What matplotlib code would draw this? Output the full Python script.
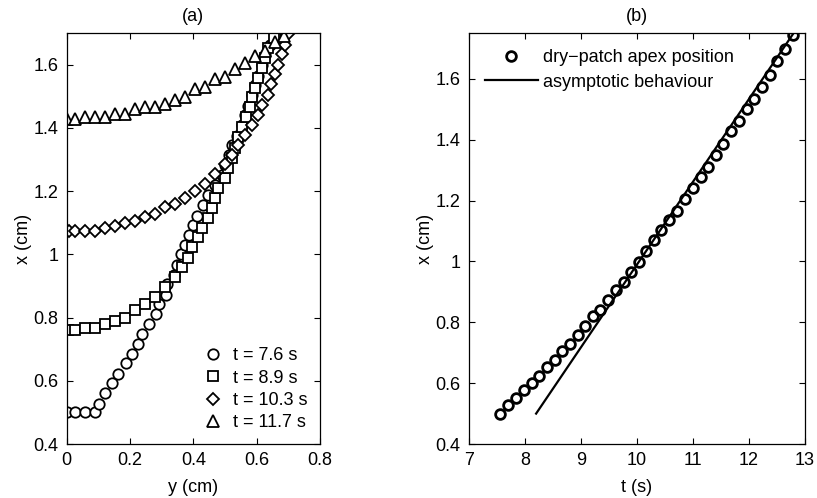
import matplotlib
matplotlib.use("Agg")
import matplotlib.pyplot as plt
from matplotlib.ticker import FuncFormatter

plt.rcParams["font.family"] = ["Liberation Sans", "DejaVu Sans"]
plt.rcParams["font.size"] = 13

# (a) dry-patch contours: y (cm) and x (cm) for each time
y_76 = [0.0, 0.026, 0.058, 0.089, 0.102, 0.121, 0.142, 0.163, 0.186, 0.205, 0.226,
        0.237, 0.26, 0.281, 0.291, 0.313, 0.318, 0.339, 0.349, 0.362, 0.373, 0.386,
        0.4, 0.413, 0.43, 0.447, 0.47, 0.49, 0.5, 0.512, 0.521, 0.538, 0.553, 0.563,
        0.573, 0.584, 0.595, 0.605, 0.616, 0.626, 0.642, 0.658]
x_76 = [0.5, 0.5, 0.5, 0.5, 0.528, 0.56, 0.592, 0.623, 0.655, 0.686, 0.718,
        0.747, 0.779, 0.81, 0.842, 0.873, 0.905, 0.936, 0.968, 1.0, 1.03, 1.06,
        1.092, 1.123, 1.155, 1.187, 1.218, 1.25, 1.282, 1.313, 1.345, 1.376, 1.408, 1.44,
        1.471, 1.503, 1.535, 1.566, 1.598, 1.63, 1.661, 1.693]

y_89 = [0.005, 0.026, 0.058, 0.089, 0.121, 0.153, 0.184, 0.216, 0.247, 0.279, 0.31,
        0.342, 0.363, 0.384, 0.395, 0.416, 0.426, 0.447, 0.458, 0.468, 0.479, 0.5,
        0.51, 0.521, 0.531, 0.542, 0.553, 0.568, 0.579, 0.584, 0.595, 0.605, 0.616,
        0.626, 0.637, 0.655]
x_89 = [0.76, 0.76, 0.768, 0.768, 0.78, 0.79, 0.80, 0.823, 0.844, 0.865, 0.896,
        0.928, 0.96, 0.99, 1.023, 1.054, 1.084, 1.115, 1.147, 1.178, 1.21, 1.242,
        1.273, 1.305, 1.336, 1.37, 1.402, 1.434, 1.466, 1.497, 1.528, 1.559, 1.59,
        1.622, 1.653, 1.685]

y_103 = [0.008, 0.026, 0.058, 0.089, 0.121, 0.153, 0.184, 0.216, 0.247, 0.279, 0.31,
         0.342, 0.373, 0.405, 0.437, 0.468, 0.5, 0.521, 0.542, 0.563, 0.584, 0.605,
         0.616, 0.637, 0.647, 0.658, 0.668, 0.679, 0.689, 0.7]
x_103 = [1.075, 1.075, 1.075, 1.075, 1.083, 1.09, 1.098, 1.107, 1.117, 1.128, 1.149,
         1.16, 1.18, 1.2, 1.223, 1.254, 1.286, 1.316, 1.347, 1.378, 1.41, 1.441,
         1.473, 1.504, 1.538, 1.57, 1.6, 1.633, 1.664, 1.696]

y_117 = [0.0, 0.026, 0.058, 0.089, 0.121, 0.153, 0.184, 0.216, 0.247, 0.279, 0.31,
         0.342, 0.373, 0.405, 0.437, 0.468, 0.5, 0.531, 0.563, 0.595, 0.626, 0.658,
         0.685]
x_117 = [1.428, 1.428, 1.435, 1.435, 1.435, 1.443, 1.443, 1.459, 1.466, 1.466, 1.475,
         1.49, 1.498, 1.522, 1.53, 1.554, 1.561, 1.586, 1.606, 1.627, 1.644, 1.673,
         1.69]

# (b) apex position vs time
t_apex = [7.55, 7.70, 7.84, 7.98, 8.12, 8.26, 8.40, 8.53, 8.67, 8.81, 8.94, 9.08,
          9.22, 9.35, 9.49, 9.63, 9.77, 9.90, 10.04, 10.17, 10.31, 10.44, 10.58,
          10.72, 10.86, 11.00, 11.14, 11.27, 11.41, 11.54, 11.68, 11.82, 11.96,
          12.10, 12.24, 12.38, 12.51, 12.65, 12.79]
x_apex = [0.497, 0.528, 0.55, 0.579, 0.601, 0.623, 0.653, 0.675, 0.706, 0.727, 0.757,
          0.788, 0.82, 0.842, 0.872, 0.905, 0.934, 0.965, 0.998, 1.035, 1.071, 1.102,
          1.135, 1.166, 1.205, 1.24, 1.277, 1.31, 1.35, 1.387, 1.43, 1.463, 1.502,
          1.534, 1.572, 1.611, 1.66, 1.698, 1.745]
t_asym = [8.2, 12.8]
x_asym = [0.5, 1.75]

fig = plt.figure(figsize=(8.17, 4.98), dpi=100)
ax1 = fig.add_axes([0.0816, 0.1084, 0.310, 0.825])
ax2 = fig.add_axes([0.574, 0.1084, 0.411, 0.825])

series = [(y_76, x_76, "o", "t = 7.6 s"),
          (y_89, x_89, "s", "t = 8.9 s"),
          (y_103, x_103, "D", "t = 10.3 s"),
          (y_117, x_117, "^", "t = 11.7 s")]
sizes = {"o": 7.5, "s": 6.5, "D": 6.5, "^": 8}
for yy, xx, m, lab in series:
    ax1.plot(yy, xx, linestyle="none", marker=m, ms=sizes[m], mfc="white",
             mec="black", mew=1.3, label=lab)
ax1.set_xlim(0, 0.8)
ax1.set_ylim(0.4, 1.7)
ax1.set_xticks([0, 0.2, 0.4, 0.6, 0.8])
ax1.set_yticks([0.4, 0.6, 0.8, 1.0, 1.2, 1.4, 1.6])
ax1.set_xlabel("y (cm)", labelpad=7)
ax1.set_ylabel("x (cm)", labelpad=1)
ax1.set_title("(a)", fontsize=13, pad=9)
ax1.legend(loc="lower right", frameon=False, handletextpad=0.5,
           labelspacing=0.3, borderaxespad=0.3, handlelength=1.2,
           bbox_to_anchor=(1.0, 0.0))

ax2.plot(t_apex, x_apex, linestyle="none", marker="o", ms=7, mfc="none",
         mec="black", mew=2, label="dry\u2212patch apex position")
ax2.plot(t_asym, x_asym, color="black", lw=1.6, label="asymptotic behaviour")
ax2.set_xlim(7, 13)
ax2.set_ylim(0.4, 1.75)
ax2.set_xticks(range(7, 14))
ax2.set_yticks([0.4, 0.6, 0.8, 1.0, 1.2, 1.4, 1.6])
ax2.set_xlabel("t (s)", labelpad=7)
ax2.set_ylabel("x (cm)", labelpad=1)
ax2.set_title("(b)", fontsize=13, pad=9)
ax2.legend(loc="upper left", frameon=False, handletextpad=0.3,
           labelspacing=0.4, borderaxespad=0.5, handlelength=2.9)

fmt = FuncFormatter(lambda v, p: "%g" % round(v, 3))
for ax in (ax1, ax2):
    ax.xaxis.set_major_formatter(fmt)
    ax.yaxis.set_major_formatter(fmt)
    ax.tick_params(direction="in", length=4, width=0.8, top=True, right=True,
                   labelsize=13, pad=6)
    for s in ax.spines.values():
        s.set_linewidth(0.9)

fig.savefig("out.png", dpi=100)
